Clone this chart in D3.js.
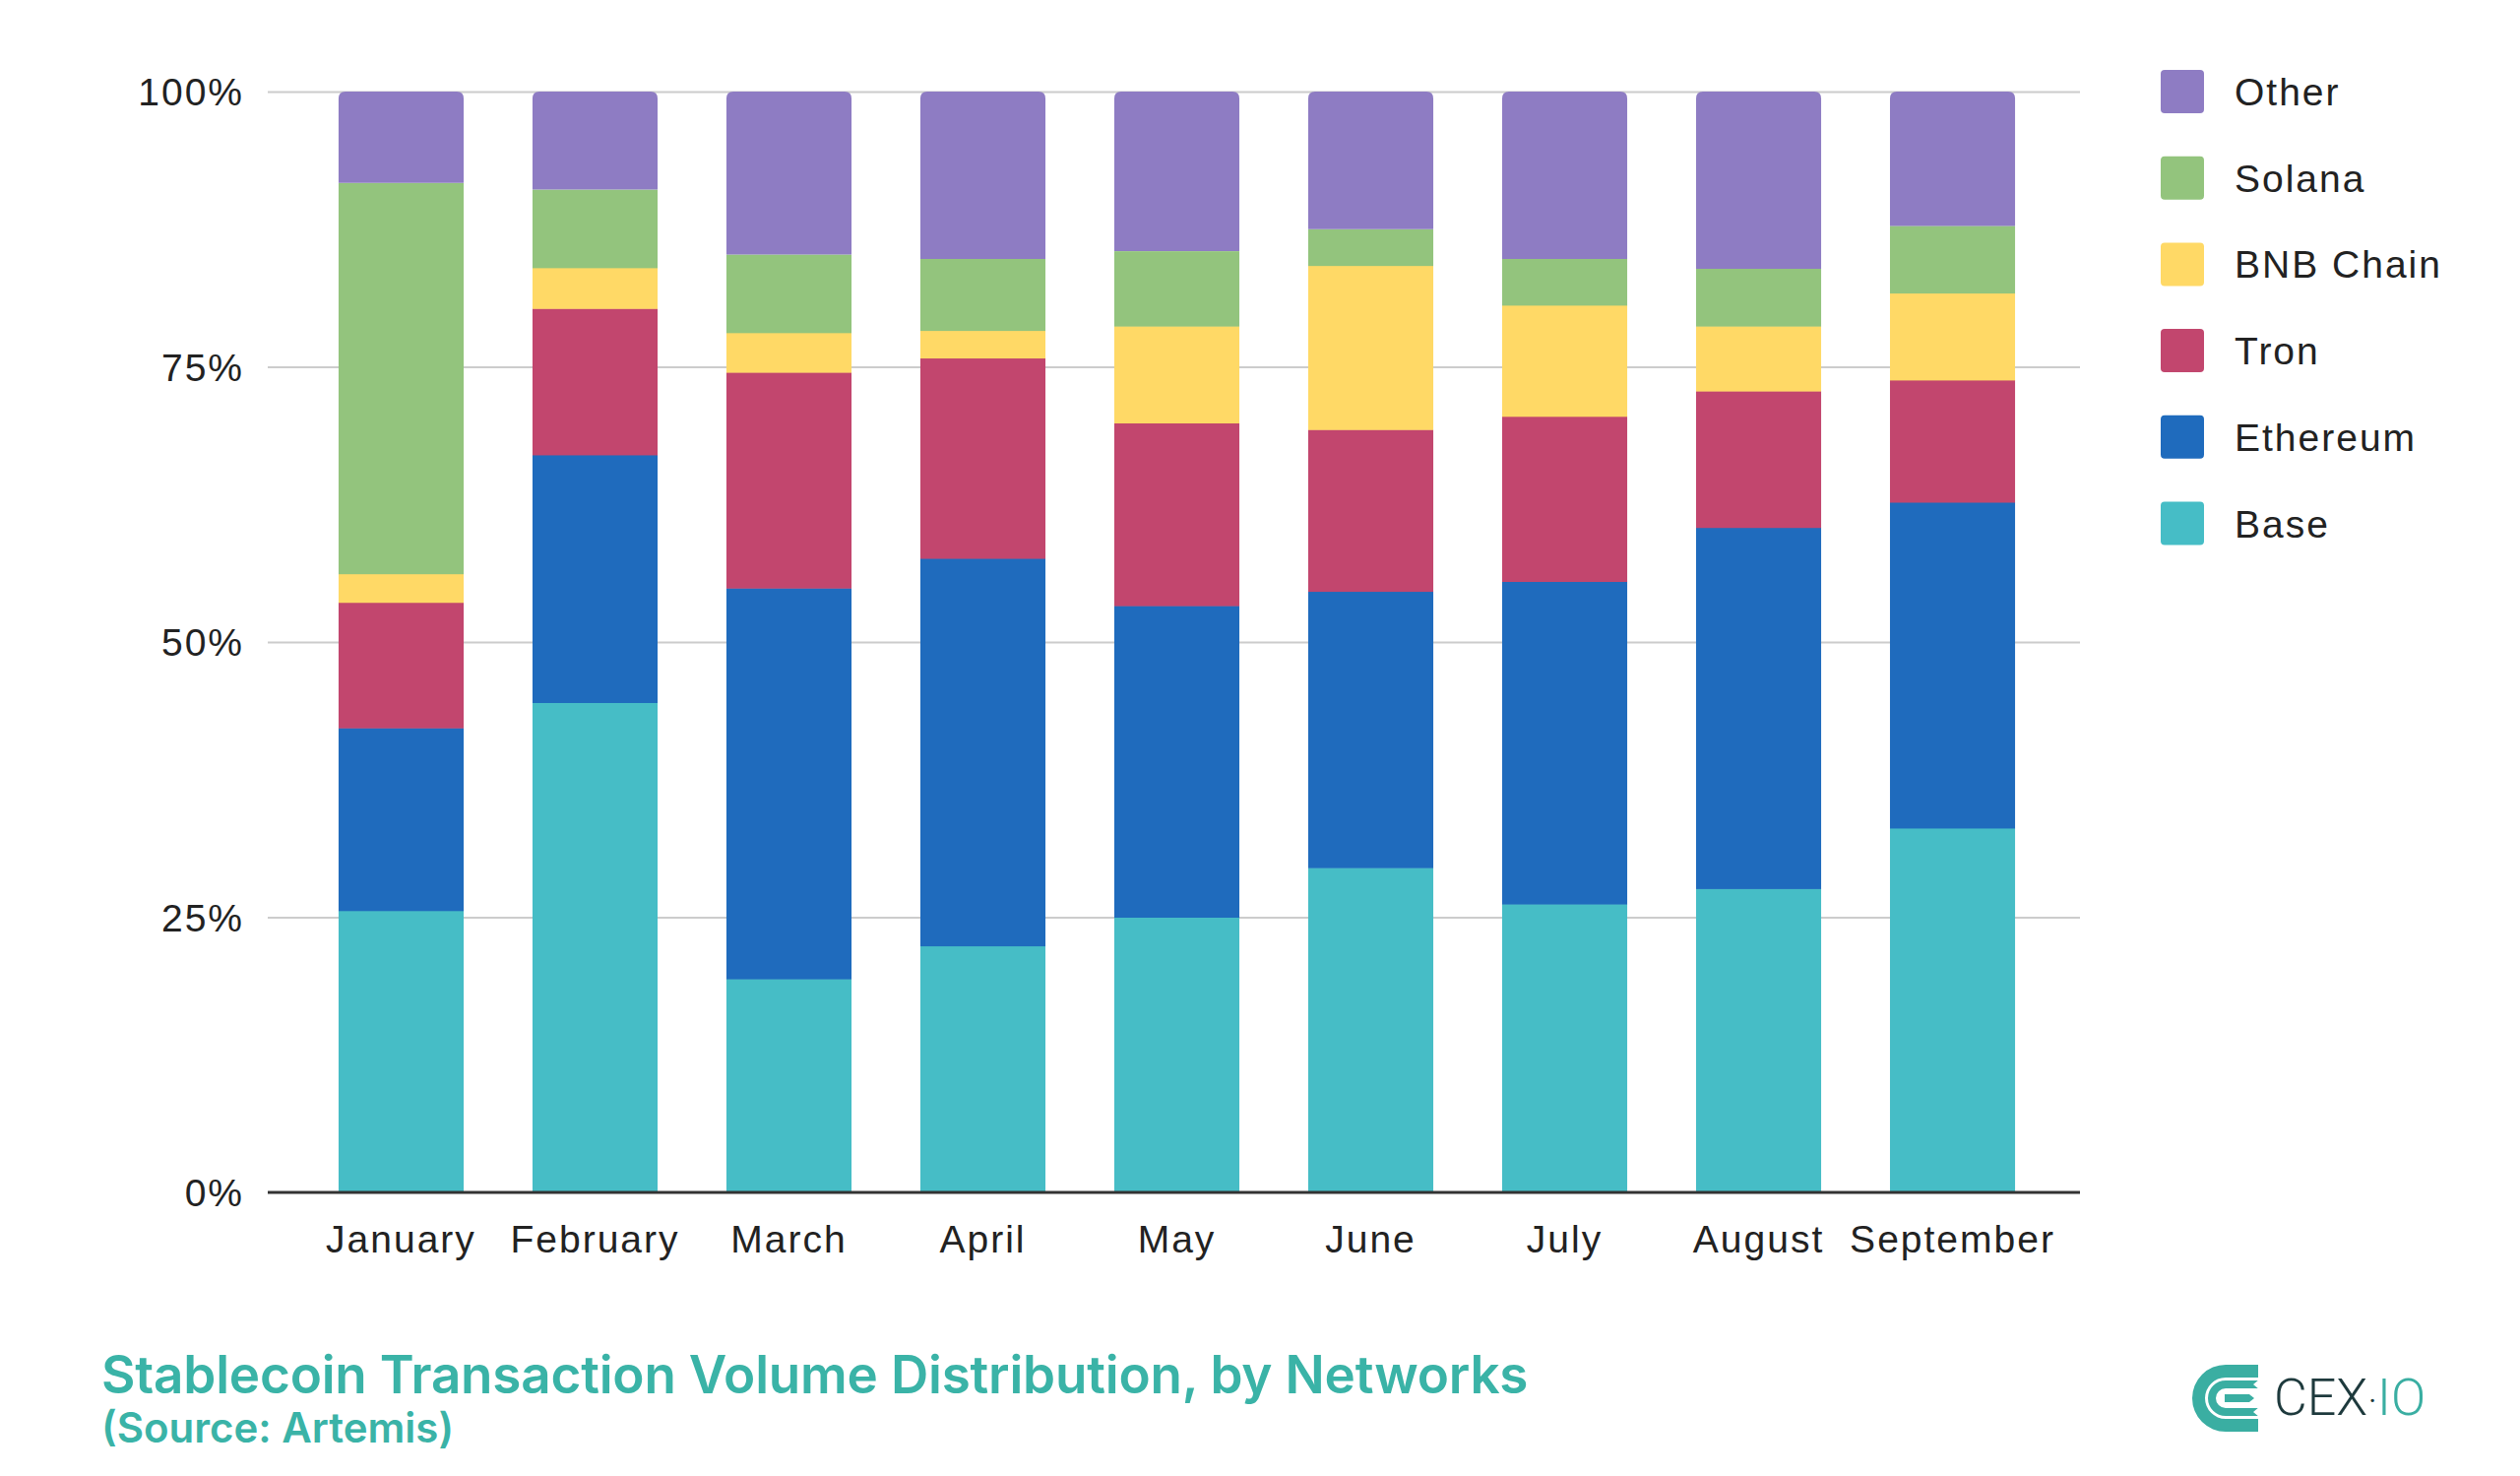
<!doctype html>
<html lang="en">
<head>
<meta charset="utf-8">
<title>Stablecoin Transaction Volume Distribution</title>
<script src="https://d3js.org/d3.v7.min.js"></script>
<style>
  body { margin: 0; background: #fff; }
  svg { display: block; }
</style>
</head>
<body>
<div id="chart"></div>
<script type="text/javascript">

// data (percent of monthly volume)
const months = ['January', 'February', 'March', 'April', 'May', 'June', 'July', 'August', 'September']
const seriesNames = ['Base', 'Ethereum', 'Tron', 'BNB Chain', 'Solana', 'Other']
const base     = [25.6, 44.5, 19.4, 22.4, 25.0, 29.5, 26.2, 27.6, 33.1]
const ethereum = [16.6, 22.5, 35.5, 35.2, 28.3, 25.1, 29.3, 32.8, 29.6]
const tron     = [11.4, 13.3, 19.6, 18.2, 16.6, 14.7, 15.0, 12.4, 11.1]
const bnb      = [2.6, 3.7, 3.6, 2.5, 8.8, 14.9, 10.1, 5.9, 7.9]
const solana   = [35.5, 7.1, 7.1, 6.5, 6.8, 3.3, 4.2, 5.2, 6.1]
const other    = [8.3, 8.9, 14.8, 15.2, 14.5, 12.5, 15.2, 16.1, 12.2]
const yTicks = [0, 0.25, 0.5, 0.75, 1]

const colors = ['#46bdc6', '#1f6bbd', '#c2466e', '#ffd966', '#93c47d', '#8e7cc3']
const seriesValues = [base, ethereum, tron, bnb, solana, other]

const W = 2560, H = 1499
const plotLeft = 272, plotRight = 2113, plotTop = 93, plotBottom = 1211

const rows = months.map((m, i) => {
    const r = { month: m }
    seriesNames.forEach((s, k) => { r[s] = seriesValues[k][i] })
    return r
})

const stacked = d3.stack().keys(seriesNames).offset(d3.stackOffsetExpand)(rows)

// bands sit a few px right of the axis centre in the original
const x = d3.scaleBand().domain(months).range([plotLeft + 3, plotRight + 3])
    .paddingInner(0.355).paddingOuter(0.35)
const y = d3.scaleLinear().domain([0, 1]).range([plotBottom, plotTop])
const color = d3.scaleOrdinal().domain(seriesNames).range(colors)

const svg = d3.select('#chart').append('svg')
    .attr('width', W).attr('height', H)

const chartFont = '"Liberation Sans", Arial, sans-serif'

// gridlines
svg.append('g')
    .attr('transform', `translate(${plotLeft},0)`)
    .call(d3.axisLeft(y).tickValues(yTicks.slice(1)).tickSize(-(plotRight - plotLeft)).tickFormat(''))
    .call(g => g.select('.domain').remove())
    .call(g => g.selectAll('line').attr('stroke', '#cccccc').attr('stroke-width', 2))

// y labels
svg.append('g').selectAll('text')
    .data(yTicks)
    .join('text')
    .attr('x', 248)
    .attr('y', d => y(d) + 14)
    .attr('text-anchor', 'end')
    .attr('font-family', chartFont)
    .attr('font-size', 39)
    .attr('letter-spacing', 2)
    .attr('fill', '#222')
    .text(d => d3.format('.0%')(d))

// bars
const rTop = 7
const topPath = (x0, w, yTop, yBot) => {
    const p = d3.path()
    p.moveTo(x0, yBot)
    p.lineTo(x0, yTop + rTop)
    p.quadraticCurveTo(x0, yTop, x0 + rTop, yTop)
    p.lineTo(x0 + w - rTop, yTop)
    p.quadraticCurveTo(x0 + w, yTop, x0 + w, yTop + rTop)
    p.lineTo(x0 + w, yBot)
    p.closePath()
    return p.toString()
}

stacked.forEach((layer, k) => {
    const g = svg.append('g').attr('fill', color(layer.key))
    if (k === stacked.length - 1) {
        g.selectAll('path')
            .data(layer)
            .join('path')
            .attr('d', d => topPath(x(d.data.month), x.bandwidth(), y(d[1]), y(d[0])))
    } else {
        g.selectAll('rect')
            .data(layer)
            .join('rect')
            .attr('x', d => x(d.data.month))
            .attr('width', x.bandwidth())
            .attr('y', d => y(d[1]))
            .attr('height', d => y(d[0]) - y(d[1]) + 0.5)
    }
})

// baseline axis
svg.append('g')
    .attr('transform', `translate(0,${plotBottom})`)
    .call(d3.axisBottom(x).tickSize(0).tickPadding(0))
    .call(g => g.select('.domain').attr('stroke', '#333').attr('stroke-width', 3)
        .attr('d', `M${plotLeft},0H${plotRight}`))
    .call(g => g.selectAll('text')
        .attr('y', 61).attr('dy', 0)
        .attr('font-family', chartFont)
        .attr('font-size', 39)
        .attr('letter-spacing', 2)
        .attr('fill', '#222'))

// legend
const legend = svg.append('g')
    .selectAll('g')
    .data(seriesNames.slice().reverse())
    .join('g')
    .attr('transform', (d, i) => `translate(2195,${71 + i * 87.7})`)
legend.append('rect')
    .attr('width', 44).attr('height', 44).attr('rx', 4)
    .attr('fill', d => color(d))
legend.append('text')
    .attr('x', 75).attr('y', 36)
    .attr('font-family', chartFont)
    .attr('font-size', 39)
    .attr('letter-spacing', 2)
    .attr('fill', '#222')
    .text(d => d)

// title
svg.append('text')
    .attr('x', 103).attr('y', 1415)
    .attr('font-family', 'Inter, "Open Sans", sans-serif')
    .attr('font-weight', 600)
    .attr('font-size', 53)
    .attr('letter-spacing', -0.2)
    .attr('fill', '#3ab3a7')
    .text('Stablecoin Transaction Volume Distribution, by Networks')
svg.append('text')
    .attr('x', 103).attr('y', 1465)
    .attr('font-family', 'Inter, "Open Sans", sans-serif')
    .attr('font-weight', 600)
    .attr('font-size', 42)
    .attr('fill', '#3ab3a7')
    .text('(Source: Artemis)')

// logo
const logo = svg.append('g').attr('transform', 'translate(2227,1386)')
logo.append('path').attr('fill', '#3aaea2')
    .attr('d', 'M67,0H34A34,34 0 0 0 34,68H67V55H34A21,21 0 0 1 34,13H67Z')
logo.append('path').attr('fill', '#3aaea2')
    .attr('d', 'M67,16H34A18,18 0 0 0 34,52H67V44H34A10,10 0 0 1 34,24H67Z')
logo.append('path').attr('fill', '#3aaea2')
    .attr('d', 'M33,30H58L63,34L58,38H33Z')
logo.append('path').attr('fill', '#fff')
    .attr('d', 'M68,15L62,20L68,25ZM68,43L62,48L68,53Z')
const logoText = svg.append('text')
    .attr('x', 2310).attr('y', 1437)
    .attr('font-family', 'Roboto, "Open Sans", sans-serif')
    .attr('font-weight', 300)
    .attr('font-size', 52)
logoText.append('tspan').attr('fill', '#1e3a3d').text('CEX')
logoText.append('tspan').attr('fill', '#1e3a3d').attr('font-size', 40).text('·')
logoText.append('tspan').attr('fill', '#3aaea2').text('IO')

</script>
</body>
</html>
